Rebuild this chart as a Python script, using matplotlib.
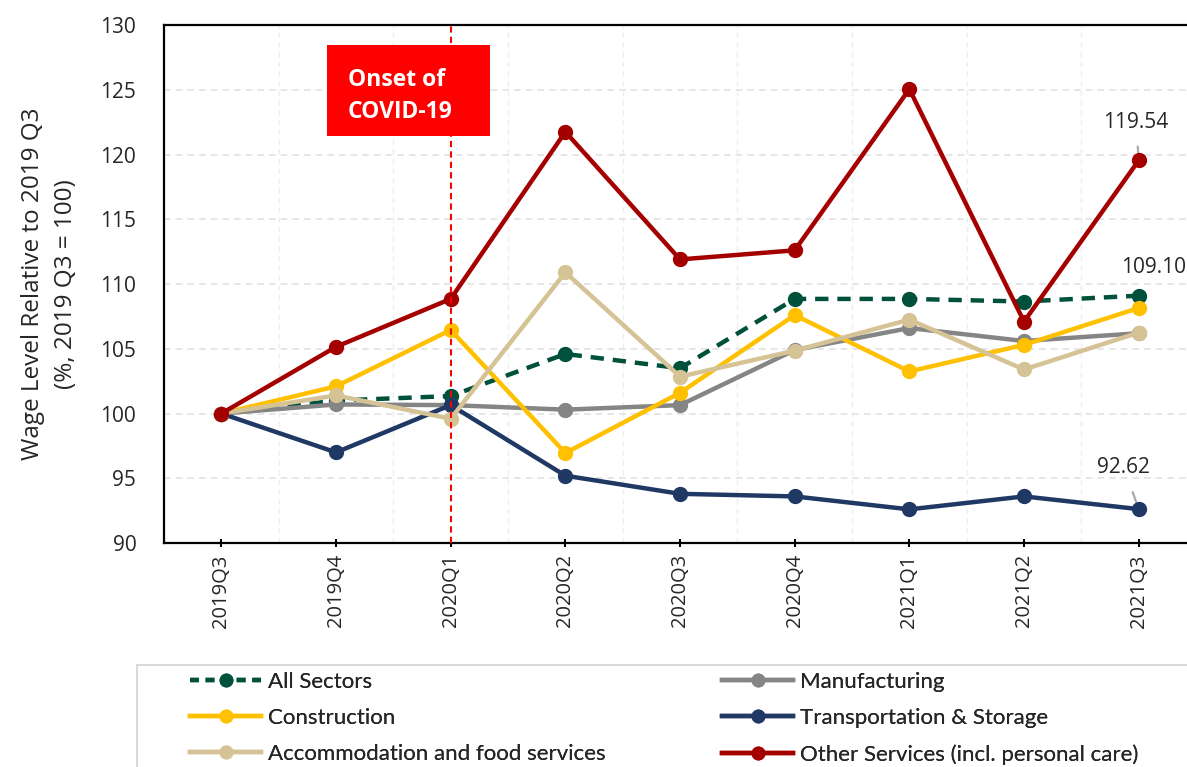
import numpy as np
import matplotlib
matplotlib.use("Agg")
import matplotlib.pyplot as plt
from matplotlib.lines import Line2D
from matplotlib.patches import Rectangle

quarters = ["2019Q3", "2019Q4", "2020Q1", "2020Q2", "2020Q3",
            "2020Q4", "2021Q1", "2021Q2", "2021Q3"]

all_sectors = [100, 101.0, 101.35, 104.6, 103.5, 108.85, 108.85, 108.65, 109.10]
manufacturing = [100, 100.7, 100.65, 100.3, 100.65, 104.9, 106.6, 105.6, 106.2]
construction = [100, 102.1, 106.45, 96.95, 101.6, 107.6, 103.25, 105.3, 108.15]
transport = [100, 97.0, 100.65, 95.2, 93.8, 93.6, 92.6, 93.6, 92.62]
accommodation = [100, 101.4, 99.6, 110.9, 102.85, 104.85, 107.25, 103.4, 106.25]
other_services = [100, 105.15, 108.85, 121.75, 111.9, 112.6, 125.05, 107.1, 119.54]

plt.rcParams['font.family'] = ['Open Sans', 'DejaVu Sans']
txt = "#262626"

fig = plt.figure(figsize=(11.87, 7.67), dpi=100)
# right end of the axes runs past the canvas edge
ax = fig.add_axes([0.1382, 0.292, 0.8694, 0.6754])

x = np.arange(len(quarters))

series = [
    ("All Sectors", all_sectors, "#00513C", "--"),
    ("Manufacturing", manufacturing, "#858585", "-"),
    ("Construction", construction, "#FFC000", "-"),
    ("Transportation & Storage", transport, "#203864", "-"),
    ("Accommodation and food services", accommodation, "#D5C396", "-"),
    ("Other Services (incl. personal care)", other_services, "#A50000", "-"),
]

# draw order: all sectors sits under the others except where it shows
order = [1, 4, 3, 2, 0, 5]
for i in order:
    name, vals, col, ls = series[i]
    ax.plot(x, vals, color=col, ls=ls, lw=3.2, marker='o', ms=10,
            dashes=(3, 2) if ls == "--" else (None, None),
            label=name, zorder=3 + i * 0.1)

ax.set_xlim(-0.5, 8.5)
ax.set_ylim(90, 130)
ax.set_yticks(np.arange(90, 131, 5))
ax.set_xticks(x)
ax.set_xticklabels(quarters, rotation=90, fontsize=14.5, color=txt)
ax.tick_params(axis='y', length=0, labelsize=15, colors=txt, pad=20)
ax.tick_params(axis='x', length=6, width=1.5, direction='inout', pad=5)

ax.set_xticks(np.arange(-0.5, 8.6, 0.5), minor=True)
ax.tick_params(axis='x', which='minor', length=0)
ax.grid(axis='y', which='major', color="#E2E2E2", ls=(0, (4, 3)), lw=1.2)
ax.grid(axis='x', which='minor', color="#EEEEEE", ls=(0, (4, 3)), lw=1.0)
ax.set_axisbelow(True)

for s in ['left', 'top', 'bottom', 'right']:
    ax.spines[s].set_linewidth(1.6)
    ax.spines[s].set_color('black')

ax.set_ylabel("Wage Level Relative to 2019 Q3\n(%, 2019 Q3 = 100)",
              fontsize=17.5, color=txt, labelpad=16, linespacing=1.5)

# COVID marker
ax.axvline(2, color="#FF0000", ls=(0, (3, 2)), lw=1.5, zorder=6)
ax.add_patch(Rectangle((0.92, 121.45), 2.34 - 0.92, 128.45 - 121.45,
                       fc="#FF0000", ec='none', zorder=7))
ax.text(1.10, 124.55, "Onset of\nCOVID-19", color="white", fontsize=16.5,
        fontweight='bold', ha='left', va='center', linespacing=1.45,
        zorder=8)

# end-point labels
ax.annotate("119.54", xy=(8, 119.54), xytext=(7.976, 122.5),
            ha='center', va='center', fontsize=15, color=txt,
            arrowprops=dict(arrowstyle='-', color="#A6A6A6", lw=1.5,
                            shrinkA=8, shrinkB=3))
ax.text(7.85, 111.25, "109.10", ha='left', va='center', fontsize=15,
        color=txt)
ax.annotate("92.62", xy=(8, 92.62), xytext=(7.87, 95.87),
            ha='center', va='center', fontsize=15, color=txt,
            arrowprops=dict(arrowstyle='-', color="#A6A6A6", lw=1.5,
                            shrinkA=9, shrinkB=3))

# legend box
fig.patches.append(Rectangle((137 / 1187, -0.02), 1.0, 0.02 + 1 - 665 / 767,
                             transform=fig.transFigure, fill=False,
                             ec="#D9D9D9", lw=1.5))


def leg_handle(name):
    _, vals, col, ls = next(s for s in series if s[0] == name)
    return Line2D([], [], color=col, ls=ls, lw=3.2, marker='o', ms=9,
                  dashes=(2, 1.5) if ls == "--" else (None, None))


leg_font = dict(family=['Lato', 'DejaVu Sans'], size=16)
cols = [["All Sectors", "Construction", "Accommodation and food services"],
        ["Manufacturing", "Transportation & Storage",
         "Other Services (incl. personal care)"]]
for names, xpos in zip(cols, [190, 722]):
    leg = fig.legend([leg_handle(n) for n in names], names,
                     loc='upper left',
                     bbox_to_anchor=(xpos / 1187, 1 - 672 / 767),
                     frameon=False, borderpad=0, borderaxespad=0,
                     handlelength=3.2, handletextpad=0.3,
                     labelspacing=0.72, prop=leg_font)
    for t in leg.get_texts():
        t.set_color(txt)
    fig.add_artist(leg)

fig.savefig("out.png", dpi=100)
